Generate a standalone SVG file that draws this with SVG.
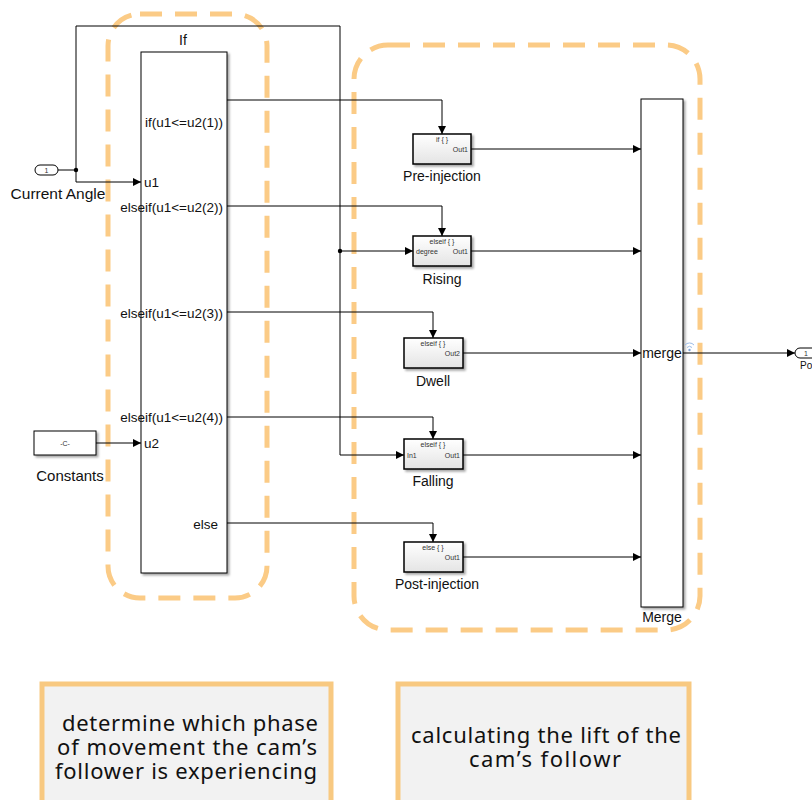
<svg xmlns="http://www.w3.org/2000/svg" width="812" height="800" viewBox="0 0 812 800">
  <defs>
    <marker id="arr" viewBox="0 0 8 8" refX="8" refY="4" markerWidth="8" markerHeight="8" markerUnits="userSpaceOnUse" orient="auto">
      <path d="M0,0 L8,4 L0,8 z" fill="#000"/>
    </marker>
    <linearGradient id="blk" x1="0" y1="0" x2="0" y2="1">
      <stop offset="0" stop-color="#ffffff"/>
      <stop offset="1" stop-color="#e4e4e4"/>
    </linearGradient>
    <filter id="sh" x="-10%" y="-10%" width="130%" height="130%">
      <feDropShadow dx="2" dy="2" stdDeviation="1" flood-color="#000" flood-opacity="0.35"/>
    </filter>
  </defs>
  <style>
    .w { fill: none; stroke: #000; stroke-width: 1; }
    .wa { fill: none; stroke: #000; stroke-width: 1; marker-end: url(#arr); }
    .blk { fill: url(#blk); stroke: #000; stroke-width: 1.5; filter: url(#sh); }
    .big { fill: #fff; stroke: #000; stroke-width: 1; filter: url(#sh); }
    .lbl { font-family: "Liberation Sans", Arial, sans-serif; font-size: 14px; fill: #111; }
    .port { font-family: "Liberation Sans", Arial, sans-serif; font-size: 13.5px; fill: #111; }
    .tiny { font-family: "Liberation Sans", Arial, sans-serif; font-size: 7px; fill: #333; }
    .grp { fill: none; stroke: #FBCB86; stroke-width: 5; stroke-dasharray: 22 13; }
    .note { fill: #F2F2F2; stroke: #F8C981; stroke-width: 5; }
    .nt { font-family: "Noto Sans", "DejaVu Sans", sans-serif; font-size: 22px; fill: #111; text-anchor: middle; }
  </style>

  <!-- grouping outlines -->
  <rect class="grp" x="108" y="14" width="159" height="584" rx="32"/>
  <rect class="grp" x="354" y="45" width="346" height="585" rx="34"/>

  <!-- connectors -->
  <g id="connectors">
    <path class="w" d="M58,170 H76"/>
    <path class="wa" d="M76,170 V182 H141"/>
    <path class="w" d="M76,170 V26 H340 V455"/>
    <path class="wa" d="M340,455 H404"/>
    <path class="wa" d="M340,251 H413"/>
    <circle cx="76" cy="170" r="2.2" fill="#000"/>
    <circle cx="340" cy="251" r="2.2" fill="#000"/>
    <path class="wa" d="M96,443 H141"/>
    <path class="wa" d="M227,100 H442 V134"/>
    <path class="wa" d="M227,206 H442 V236"/>
    <path class="wa" d="M227,312 H433 V338"/>
    <path class="wa" d="M227,417 H433 V439"/>
    <path class="wa" d="M227,523 H433 V542"/>
    <path class="wa" d="M471,149 H641"/>
    <path class="wa" d="M471,251 H641"/>
    <path class="wa" d="M463,353 H641"/>
    <path class="wa" d="M463,455 H641"/>
    <path class="wa" d="M463,557 H641"/>
    <path class="wa" d="M683,353 H795"/>
  </g>

  <!-- inport: Current Angle -->
  <g id="current-angle">
    <rect x="35" y="165" width="23" height="10" rx="5" fill="#fff" stroke="#000" stroke-width="1"/>
    <text x="46.5" y="172.5" class="tiny" text-anchor="middle">1</text>
    <text x="58" y="199" class="lbl" text-anchor="middle" style="font-size:15.5px">Current Angle</text>
  </g>

  <!-- constant block -->
  <g id="constants">
    <rect x="34" y="431" width="62" height="24" fill="#fff" stroke="#000" stroke-width="1" filter="url(#sh)"/>
    <text x="65" y="446" class="tiny" text-anchor="middle">-C-</text>
    <text x="70" y="481" class="lbl" text-anchor="middle" style="font-size:15px">Constants</text>
  </g>

  <!-- If block -->
  <g id="if-block">
    <rect class="big" x="141" y="52" width="86" height="521"/>
    <text x="183" y="45" class="lbl" text-anchor="middle">If</text>
    <text x="144" y="187" class="port">u1</text>
    <text x="144" y="448" class="port">u2</text>
    <text x="223" y="127" class="port" text-anchor="end">if(u1&lt;=u2(1))</text>
    <text x="223" y="212" class="port" text-anchor="end">elseif(u1&lt;=u2(2))</text>
    <text x="223" y="318" class="port" text-anchor="end">elseif(u1&lt;=u2(3))</text>
    <text x="223" y="422" class="port" text-anchor="end">elseif(u1&lt;=u2(4))</text>
    <text x="218" y="529" class="port" text-anchor="end">else</text>
  </g>

  <!-- action subsystems -->
  <g id="pre-injection">
    <rect class="blk" x="413" y="134" width="58" height="30"/>
    <text x="442" y="142" class="tiny" text-anchor="middle">if { }</text>
    <text x="468" y="152" class="tiny" text-anchor="end">Out1</text>
    <text x="442" y="181" class="lbl" text-anchor="middle">Pre-injection</text>
  </g>
  <g id="rising">
    <rect class="blk" x="413" y="236" width="58" height="30"/>
    <text x="442" y="244" class="tiny" text-anchor="middle">elseif { }</text>
    <text x="416" y="254" class="tiny">degree</text>
    <text x="468" y="254" class="tiny" text-anchor="end">Out1</text>
    <text x="442" y="284" class="lbl" text-anchor="middle">Rising</text>
  </g>
  <g id="dwell">
    <rect class="blk" x="404" y="338" width="59" height="30"/>
    <text x="433" y="346" class="tiny" text-anchor="middle">elseif { }</text>
    <text x="460" y="356" class="tiny" text-anchor="end">Out2</text>
    <text x="433" y="386" class="lbl" text-anchor="middle">Dwell</text>
  </g>
  <g id="falling">
    <rect class="blk" x="404" y="439" width="59" height="30"/>
    <text x="433" y="447" class="tiny" text-anchor="middle">elseif { }</text>
    <text x="407" y="458" class="tiny">In1</text>
    <text x="460" y="458" class="tiny" text-anchor="end">Out1</text>
    <text x="433" y="486" class="lbl" text-anchor="middle">Falling</text>
  </g>
  <g id="post-injection">
    <rect class="blk" x="404" y="542" width="59" height="30"/>
    <text x="433" y="550" class="tiny" text-anchor="middle">else { }</text>
    <text x="460" y="560" class="tiny" text-anchor="end">Out1</text>
    <text x="437" y="589" class="lbl" text-anchor="middle">Post-injection</text>
  </g>

  <!-- merge block -->
  <g id="merge">
    <rect class="big" x="641" y="99" width="42" height="508"/>
    <text x="662" y="358" class="lbl" text-anchor="middle">merge</text>
    <text x="662" y="622" class="lbl" text-anchor="middle">Merge</text>
    <!-- signal logging badge -->
    <g fill="none" stroke="#9DBCE6" stroke-width="1">
      <path d="M685,345 A6,6 0 0 1 694,345"/>
      <path d="M687,347.5 A3.5,3.5 0 0 1 692,347.5"/>
    </g>
    <circle cx="689.5" cy="350" r="1.2" fill="#7EA6DD"/>
  </g>

  <!-- outport -->
  <g id="outport">
    <rect x="795" y="348" width="24" height="10" rx="5" fill="#fff" stroke="#000" stroke-width="1"/>
    <text x="806" y="355.5" class="tiny" text-anchor="middle">1</text>
    <text x="800" y="369" class="port" style="font-size:10px">Po</text>
  </g>

  <!-- notes -->
  <g id="note-left">
    <rect class="note" x="42" y="684" width="289" height="120"/>
    <text class="nt" x="190" y="731" textLength="256" lengthAdjust="spacing">determine which phase</text>
    <text class="nt" x="187" y="755" textLength="260" lengthAdjust="spacing">of movement the cam’s</text>
    <text class="nt" x="186" y="779" textLength="262" lengthAdjust="spacing">follower is experiencing</text>
  </g>
  <g id="note-right">
    <rect class="note" x="398" y="684" width="291" height="120"/>
    <text class="nt" x="546" y="743" textLength="270" lengthAdjust="spacing">calculating the lift of the</text>
    <text class="nt" x="545" y="767" textLength="152" lengthAdjust="spacing">cam’s followr</text>
  </g>
</svg>
